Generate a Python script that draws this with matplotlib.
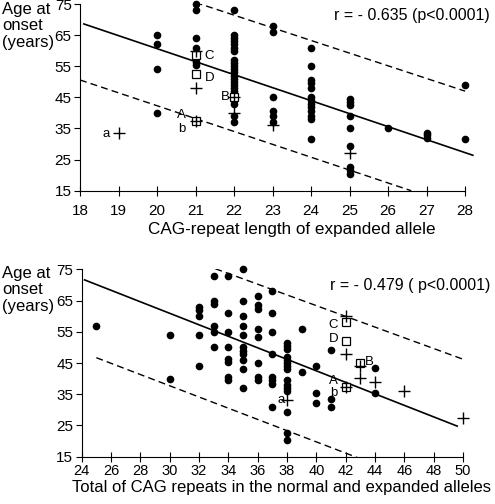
import matplotlib
matplotlib.use("Agg")
import matplotlib.pyplot as plt

plt.rcParams["font.family"] = ["Liberation Sans", "DejaVu Sans"]

# ---- top panel: CAG-repeat length of expanded allele vs age at onset
top_dot_x = ([20] * 4 + [21] * 7 + [22] * 23 + [23] * 6 + [24] * 13 + [25] * 9
             + [26] + [27] * 3 + [28] * 2)
top_dot_y = [65, 62, 54, 40,
             75, 73, 64, 61, 57.5, 56.5, 55.5,
             73, 65, 64, 63, 62, 61, 60, 57, 56, 55, 54, 53, 52, 51, 50, 49, 48,
             47, 45, 44, 43, 39, 37,
             68, 66, 45, 40.5, 39, 37,
             61, 55, 50.5, 49.5, 48, 45, 44, 43, 42, 40.5, 39, 38, 31.5,
             44.5, 43.5, 42.5, 39, 35, 29.5, 22.5, 21.5, 20.5,
             35,
             33.5, 33, 32,
             49, 31.5]
top_cross_x = [19, 21, 21, 21, 22, 22, 23, 25]
top_cross_y = [33.5, 60, 48, 37.5, 45, 40, 36, 27]
top_sq_x = [21, 21, 21, 22]
top_sq_y = [58.5, 52.5, 37.5, 45]
top_labels = ["a", "C", "D", "A", "b", "B"]
top_label_x = [18.69, 21.36, 21.36, 20.64, 20.64, 21.77]
top_label_y = [33.2, 58.3, 51.3, 39.2, 34.9, 45.0]
top_fit_x = [18.1, 28.2]
top_fit_y = [68.6, 26.4]
top_up_x = [21.0, 28.0]
top_up_y = [75.5, 47.0]
top_lo_x = [18.0, 26.6]
top_lo_y = [50.6, 15.0]

# ---- bottom panel: total CAG repeats vs age at onset
bot_dot_x = ([25] + [30] * 2 + [32] * 5 + [33] * 6 + [34] * 8 + [35] * 11
             + [36] * 8 + [37] * 8 + [38] * 15 + [39] * 2 + [40] * 3 + [41] * 3
             + [44] * 2)
bot_dot_y = [57,
             54, 40,
             63, 62, 60, 54, 44,
             73, 65, 64, 57, 55, 50,
             73, 61, 55, 50, 46.3, 45.2, 40.6, 39.5,
             75, 65, 60, 57, 54, 50, 49, 48, 46, 43, 37,
             66.3, 63.5, 62.3, 56, 53.3, 45, 40.6, 39.5,
             68, 61, 55, 48, 40.5, 39.5, 38.3, 31,
             51.5, 50.5, 49.5, 47, 46, 45, 44, 43, 39.5, 38, 37, 36, 29.3,
             22.5, 20.3,
             56, 42,
             44, 35.3, 32.3,
             49.2, 33.4, 31,
             43.3, 35.3]
bot_cross_x = [38, 42, 42, 42, 43, 43, 44, 46, 50]
bot_cross_y = [33.2, 60, 48, 37.2, 44, 40.2, 39, 36, 27.3]
bot_sq_x = [42, 42, 42, 43]
bot_sq_y = [58, 52, 37.2, 45.1]
bot_labels = ["a", "C", "D", "A", "b", "B"]
bot_label_x = [37.58, 41.16, 41.16, 41.18, 41.18, 43.6]
bot_label_y = [33.1, 57.2, 52.6, 39.4, 35.5, 45.4]
bot_fit_x = [24.2, 49.6]
bot_fit_y = [71.6, 24.8]
bot_up_x = [32.4, 50.0]
bot_up_y = [76.4, 46.2]
bot_lo_x = [25.0, 43.2]
bot_lo_y = [46.7, 14.0]


def panel(ax, dx, dy, cx, cy, sx, sy, labs, lx, ly, fit, up, lo, xlim, xticks,
          xbounds, xlabel, label_xy, label_size, tick_pad, tick_size):
    ax.plot(fit[0], fit[1], color="black", lw=1.2)
    ax.plot(up[0], up[1], color="black", lw=1.0, ls=(0, (5, 3)))
    ax.plot(lo[0], lo[1], color="black", lw=1.0, ls=(0, (5, 3)))
    ax.plot(dx, dy, "o", color="black", ms=4.5, mec="black", clip_on=False)
    ax.plot(sx, sy, "s", mfc="white", mec="black", ms=5.2, mew=0.9, clip_on=False)
    ax.plot(cx, cy, "+", color="black", ms=8.5, mew=1.0, clip_on=False)
    for t, x, y in zip(labs, lx, ly):
        ax.text(x, y, t, fontsize=9.5, ha="center", va="center")
    ax.set_xlim(*xlim)
    ax.set_ylim(15, 75)
    ax.set_xticks(xticks)
    ax.set_yticks([15, 25, 35, 45, 55, 65, 75])
    for s in ("top", "right"):
        ax.spines[s].set_visible(False)
    ax.spines["bottom"].set_bounds(*xbounds)
    ax.spines["left"].set_bounds(15, 75)
    ax.tick_params(axis="x", direction="inout", length=7, labelsize=tick_size,
                   pad=tick_pad)
    ax.tick_params(axis="y", direction="out", length=4, labelsize=11, pad=2)
    ax.set_xlabel(xlabel, fontsize=label_size)
    ax.xaxis.set_label_coords(*label_xy)
    ax.xaxis.label.set_verticalalignment("center")


fig = plt.figure(figsize=(4.95, 5.04), dpi=100)
ax1 = fig.add_axes([0.1616, 0.6216, 0.8014, 0.3704])
ax2 = fig.add_axes([0.165, 0.0938, 0.7764, 0.3719])

panel(ax1, top_dot_x, top_dot_y, top_cross_x, top_cross_y, top_sq_x, top_sq_y,
      top_labels, top_label_x, top_label_y, (top_fit_x, top_fit_y),
      (top_up_x, top_up_y), (top_lo_x, top_lo_y), (18, 28.3), range(18, 29),
      (18, 28), "CAG-repeat length of expanded allele", (0.535, -0.21), 12.3,
      6, 11)
panel(ax2, bot_dot_x, bot_dot_y, bot_cross_x, bot_cross_y, bot_sq_x, bot_sq_y,
      bot_labels, bot_label_x, bot_label_y, (bot_fit_x, bot_fit_y),
      (bot_up_x, bot_up_y), (bot_lo_x, bot_lo_y), (24, 50.2), range(24, 51, 2),
      (24, 50), "Total of CAG repeats in the normal and expanded alleles",
      (0.521, -0.162), 12, 1.5, 10.5)

fig.text(0.99, 0.970, "r = - 0.635 (p<0.0001)", fontsize=11.5, ha="right", va="center")
fig.text(0.99, 0.4345, "r = - 0.479 ( p<0.0001)", fontsize=11.5, ha="right", va="center")

fig.text(0.005, 0.997, "Age at\nonset\n(years)", fontsize=12, ha="left", va="top",
         linespacing=1.15)
fig.text(0.005, 0.473, "Age at\nonset\n(years)", fontsize=12, ha="left", va="top",
         linespacing=1.15)

fig.savefig("out.png", dpi=100)
